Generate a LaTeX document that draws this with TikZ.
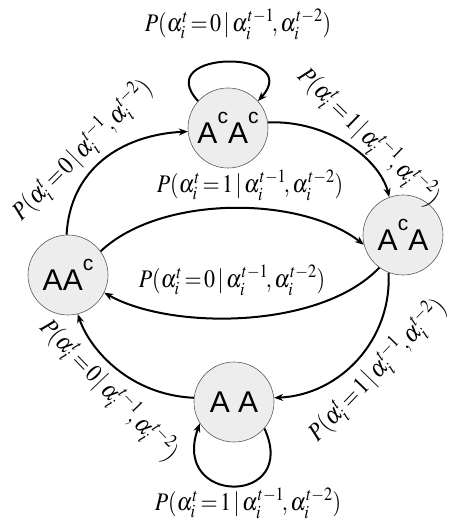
\documentclass[tikz,border=0pt]{standalone}
\usepackage{mathptmx}
\usepackage{fontspec}
\setsansfont{Liberation Sans}
\usetikzlibrary{arrows.meta}
\newcommand{\plab}[1]{\scalebox{1}[1.15]{$P(\alpha_i^t\,{=}\,#1\,|\,\alpha_i^{t-1}\!,\alpha_i^{t-2})$}}
\newcommand{\cc}{\raisebox{1.25ex}{\fontsize{21}{21}\selectfont c}}
\tikzset{
  state/.style={circle, draw=gray!70!black, line width=0.6pt, fill=gray!14, minimum size=80pt, inner sep=0pt,
     font=\sffamily\fontsize{30}{30}\selectfont},
  trans/.style={line width=2pt, -{Stealth[length=9pt,width=7pt]}},
  lab/.style={font=\fontsize{22}{24}\selectfont, inner sep=0pt}
}
\begin{document}
\begin{tikzpicture}[x=1pt,y=-1pt]
\useasboundingbox (0,0) rectangle (457,529);
% states
\node[state] (ac)  at (228,128) {A\cc A\cc};
\node[state] (aca) at (403,235) {A\cc A};
\node[state] (aac) at (68,275)  {AA\cc};
\node[state] (aa)  at (234,402) {A A};
% transitions
\draw[trans] (ac.138) .. controls (150,49) and (305,49) .. (ac.42);
\draw[trans] (ac.8) .. controls (330,120) and (380,160) .. (aca.110);
\draw[trans] (aac.92) .. controls (70,170) and (120,135) .. (ac.185);
\draw[trans] (aac.36) .. controls (160,195) and (300,195) .. (aca.194);
\draw[trans] (aca.234) .. controls (320,330) and (170,330) .. (aac.-26);
\draw[trans] (aca.249) .. controls (392,340) and (340,395) .. (aa.6);
\draw[trans] (aa.174) .. controls (130,395) and (90,350) .. (aac.284);
\draw[trans] (aa.319) .. controls (300,506) and (170,506) .. (aa.212);
% labels
\node[lab] (l1) at (238,24) {\plab{0}};
\node[lab] (l2) at (250,185) {\plab{1}};
\node[lab] (l3) at (232,280) {\plab{0}};
\node[lab] (l4) at (248,503) {\plab{1}};
\node[lab, rotate=45]  (l5) at (82,150)  {\plab{0}};
\node[lab, rotate=-44] (l6) at (369,137) {\plab{1}};
\node[lab, rotate=46]  (l7) at (377,370) {\plab{1}};
\node[lab, rotate=-46] (l8) at (109,390) {\plab{0}};
\end{tikzpicture}
\end{document}
